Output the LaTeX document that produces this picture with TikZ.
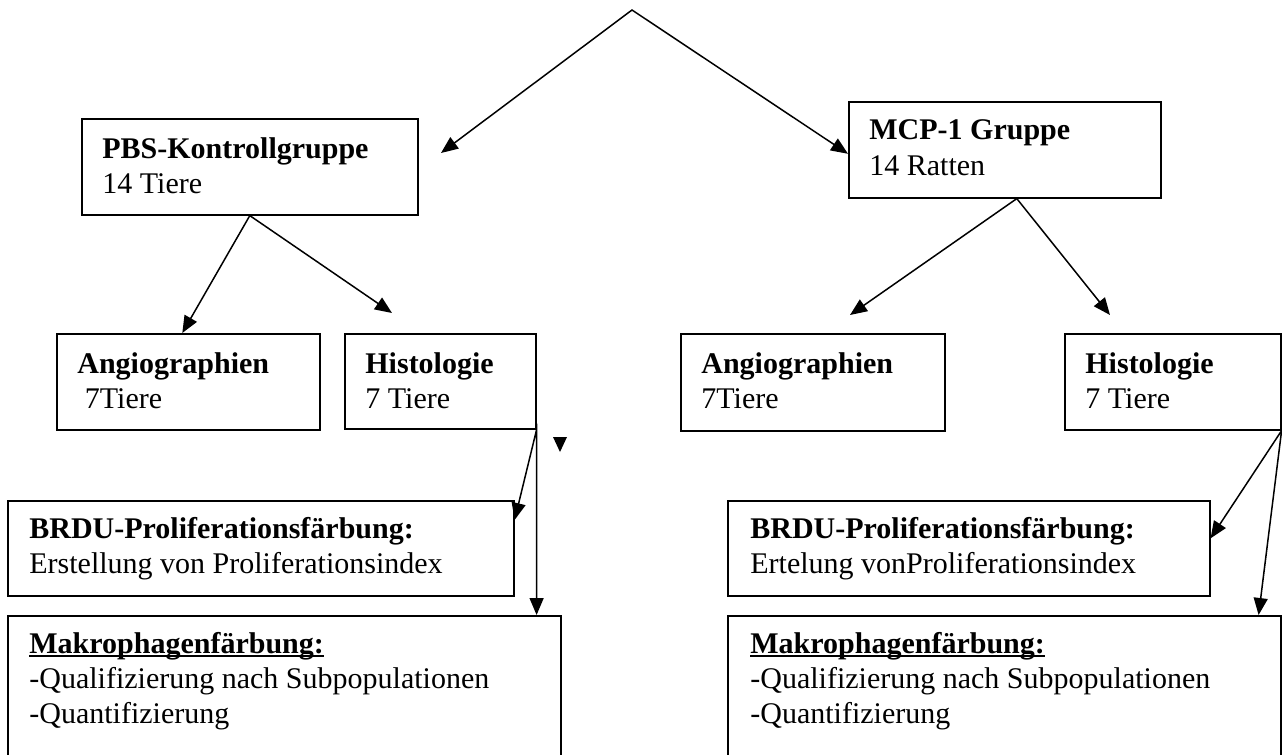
\documentclass[tikz,border=0pt]{standalone}
\usepackage{fontspec}
\setmainfont{Liberation Serif}
\usetikzlibrary{arrows.meta}

\newcommand{\dickunter}[1]{\setbox0\hbox{#1}\rlap{\rule[-2.2pt]{\wd0}{1.1pt}}\box0}

\tikzset{
    box/.style={draw, line width=0.8pt, inner sep=0pt, anchor=north west},
    txt/.style={anchor=base west, align=left, inner sep=0pt, font=\fontsize{15}{17.5}\selectfont},
    arr/.style={line width=0.75pt, line join=miter}
}

\begin{document}
\begin{tikzpicture}[x=0.5pt, y=-0.5pt, >={Triangle[length=8.5pt,width=7pt]}]
    \useasboundingbox (0,0) rectangle (1282,755);
    \node (pbs) at (81,118)[box, minimum width=168pt, minimum height=48pt]{};
    \node (mcp) at (848,101)[box, minimum width=156pt, minimum height=48pt]{};
    \node (angioA) at (56,333)[box, minimum width=131.5pt, minimum height=48pt]{};
    \node (histoA) at (344,333)[box, minimum width=95.5pt, minimum height=47.5pt]{};
    \node (angioB) at (680,333)[box, minimum width=132pt, minimum height=48.5pt]{};
    \node (histoB) at (1064,333)[box, minimum width=108pt, minimum height=48pt]{};
    \node (brduA) at (7,500)[box, minimum width=253pt, minimum height=47.5pt]{};
    \node (brduB) at (727,500)[box, minimum width=241pt, minimum height=47.5pt]{};
    \node (makroA) at (7,615)[box, minimum width=276.5pt, minimum height=90pt]{};
    \node (makroB) at (727,615)[box, minimum width=276.5pt, minimum height=90pt]{};

    \node (pbstxt) at ([shift={(21,75)}]pbs.north west)[txt]{\textbf{PBS-Kontrollgruppe}\\14 Tiere};
    \node (mcptxt) at ([shift={(21,74)}]mcp.north west)[txt]{\textbf{MCP-1 Gruppe}\\14 Ratten};
    \node (angioAtxt) at ([shift={(21,75)}]angioA.north west)[txt]{\textbf{Angiographien}\\\ 7Tiere};
    \node (histoAtxt) at ([shift={(21,75)}]histoA.north west)[txt]{\textbf{Histologie}\\7 Tiere};
    \node (angioBtxt) at ([shift={(21,75)}]angioB.north west)[txt]{\textbf{Angiographien}\\7Tiere};
    \node (histoBtxt) at ([shift={(21,75)}]histoB.north west)[txt]{\textbf{Histologie}\\7 Tiere};
    \node (brduAtxt) at ([shift={(22,73)}]brduA.north west)[txt]{\textbf{BRDU-Proliferationsfärbung:}\\Erstellung von Proliferationsindex};
    \node (brduBtxt) at ([shift={(23,73)}]brduB.north west)[txt]{\textbf{BRDU-Proliferationsfärbung:}\\Ertelung vonProliferationsindex};
    \node (makroAtxt) at ([shift={(22,108)}]makroA.north west)[txt]{\dickunter{\textbf{Makrophagenfärbung:}}\\-Qualifizierung nach Subpopulationen\\-Quantifizierung};
    \node (makroBtxt) at ([shift={(23,108)}]makroB.north west)[txt]{\dickunter{\textbf{Makrophagenfärbung:}}\\-Qualifizierung nach Subpopulationen\\-Quantifizierung};

    \coordinate (top) at (632,10);
    \coordinate (pbsend) at (441,153);
    \coordinate (histoAend) at (392,313);
    \coordinate (angioBend) at (850,315);
    \coordinate (histoBend) at (1110,315);

    \draw[arr, <->] (pbsend) -- (top) -- ([yshift=-2pt]mcp.west);
    \draw[arr, <->] ([xshift=-3pt]angioA.north) -- (pbs.south) -- (histoAend);
    \draw[arr, <->] (angioBend) -- ([xshift=6pt]mcp.south) -- (histoBend);
    \draw[arr, <->] ([yshift=-10pt]brduA.north east) -- (histoA.south east) -- (histoA.south east |- makroA.north);
    \draw[arr, <->] ([yshift=5pt]brduB.east) -- (histoB.south east) -- ([xshift=-11.5pt]makroB.north east);
    \fill (553,437) -- (567,437) -- (560,452) -- cycle;
\end{tikzpicture}
\end{document}
